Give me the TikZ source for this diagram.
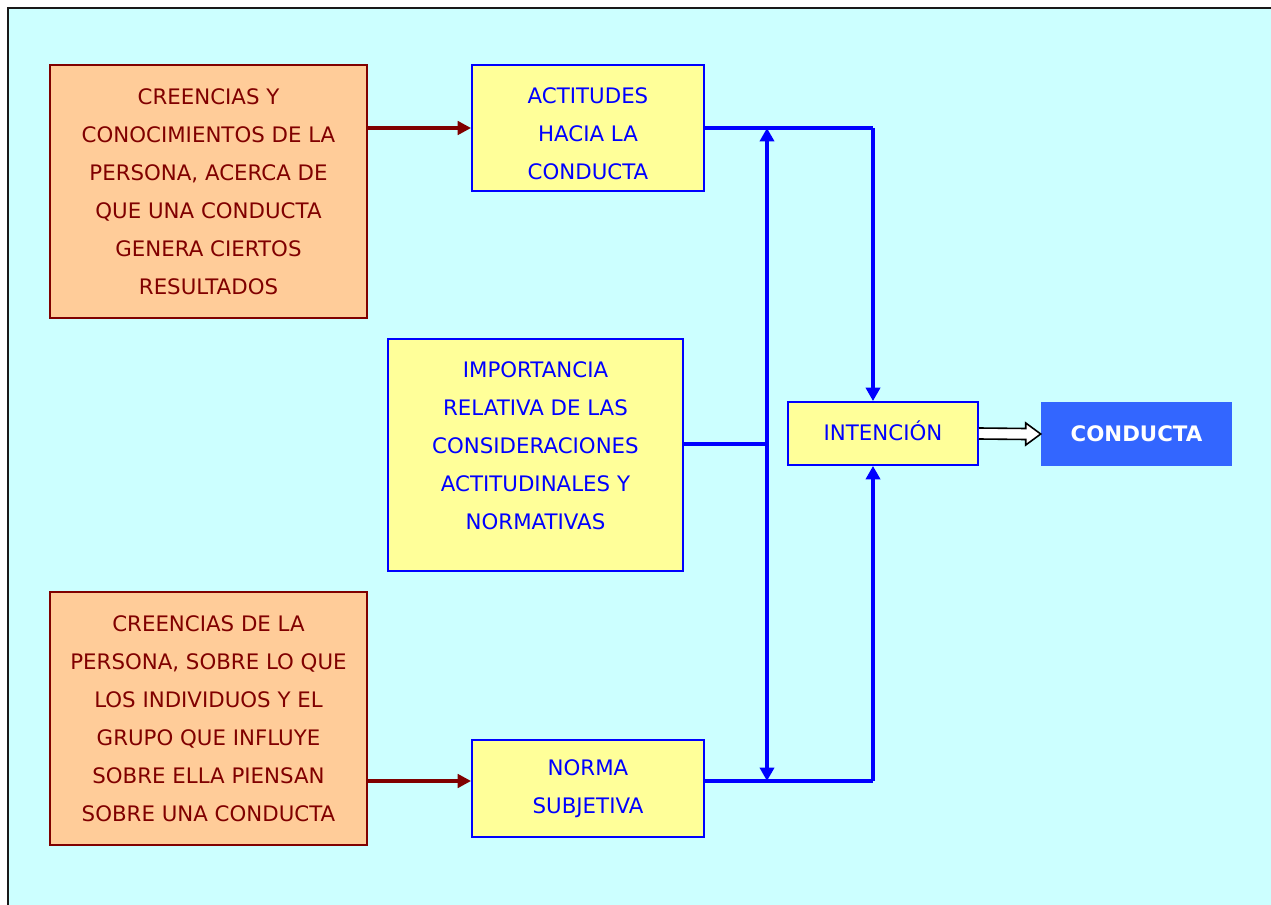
\documentclass[tikz,border=0pt]{standalone}
\usepackage{fontspec}
\setmainfont{DejaVu Sans}
\usetikzlibrary{arrows.meta,calc}
\definecolor{bgc}{HTML}{CCFFFF}
\definecolor{orangefill}{HTML}{FFCC99}
\definecolor{yellowfill}{HTML}{FFFF99}
\definecolor{darkred}{HTML}{800000}
\definecolor{bluel}{HTML}{0000FF}
\definecolor{condfill}{HTML}{3366FF}
\tikzset{
  boxfont/.style={font=\fontsize{16}{28.5}\selectfont},
  orangebox/.style={draw=darkred, line width=1.4pt, fill=orangefill, text=darkred, align=center, inner sep=0pt, boxfont},
  yellowbox/.style={draw=bluel, line width=1.4pt, fill=yellowfill, text=bluel, align=center, inner sep=0pt, boxfont},
  yellowtext/.style={text=bluel, align=center, inner sep=0pt, boxfont},
  redarrow/.style={draw=darkred, line width=2.6pt, -{Triangle[length=10pt,width=10pt]}},
  blueline/.style={draw=bluel, line width=2.8pt},
  bluetip/.style={Triangle[length=10pt,width=10.5pt]},
  bluearrow/.style={blueline, -{Triangle[length=10pt,width=10.5pt]}},
}
\begin{document}
\begin{tikzpicture}[x=0.75pt,y=-0.75pt]
\useasboundingbox (0,0) rectangle (1271,905);
\fill[bgc] (8,8) rectangle (1271,905);
\draw[black!90, line width=2pt] (8,905) -- (8,8) -- (1271,8);
% boxes
\node[orangebox, minimum width=317*0.75pt, minimum height=253*0.75pt] (b1) at (208.5,191.5) {CREENCIAS Y\\CONOCIMIENTOS DE LA\\PERSONA, ACERCA DE\\QUE UNA CONDUCTA\\GENERA CIERTOS\\RESULTADOS};
\node[orangebox, minimum width=317*0.75pt, minimum height=253*0.75pt] (b2) at (208.5,718.5) {CREENCIAS DE LA\\PERSONA, SOBRE LO QUE\\LOS INDIVIDUOS Y EL\\GRUPO QUE INFLUYE\\SOBRE ELLA PIENSAN\\SOBRE UNA CONDUCTA};
\node[yellowbox, minimum width=232*0.75pt, minimum height=126*0.75pt] (act) at (588,128) {};
\node[yellowtext] (acttext) at (588,134) {ACTITUDES\\HACIA LA\\CONDUCTA};
\node[yellowbox, minimum width=295*0.75pt, minimum height=232*0.75pt] (imp) at (535.5,455) {};
\node[yellowtext] (imptext) at (535.5,445.5) {IMPORTANCIA\\RELATIVA DE LAS\\CONSIDERACIONES\\ACTITUDINALES Y\\NORMATIVAS};
\node[yellowbox, minimum width=232*0.75pt, minimum height=97*0.75pt] (norma) at (588,788.5) {NORMA\\SUBJETIVA};
\node[yellowbox, minimum width=190*0.75pt, minimum height=63*0.75pt] (int) at (883,433.5) {};
\node[yellowtext] (inttext) at (883,431) {INTENCIÓN};
\node[fill=condfill, text=white, font=\fontsize{16}{18}\selectfont\bfseries, minimum width=191*0.75pt, minimum height=64*0.75pt, inner sep=0pt] (cond) at (1136.5,434) {CONDUCTA};
% coordinates
\coordinate (tr) at (873,128);
\coordinate (tm) at (767,128);
\coordinate (bm) at (767,781);
\coordinate (na) at (704,781);
\coordinate (nr) at (873,781);
\coordinate (im) at (767,444);
% red arrows
\draw[redarrow] (b1.east |- act.west) -- (act.west);
\draw[redarrow] (b2.east |- na) -- (act.west |- na);
% blue
\draw[blueline] (act.east) -- (tr);
\draw[bluearrow] (tr) -- (int.north -| tr);
\draw[blueline] (na) -- (nr);
\draw[bluearrow] (nr) -- (int.south -| nr);
\draw[blueline] (imp.east |- im) -- (im);
\draw[blueline, {Triangle[length=10pt,width=10.5pt]}-{Triangle[length=10pt,width=10.5pt]}] (tm) -- (bm);
% hollow arrow
\draw[black, fill=white, line width=1.2pt, line join=miter]
  ($(int.east)+(0,-5.5)$) -- ($(cond.west)+(-15,-5.5)$) -- ($(cond.west)+(-15,-11)$)
  -- (cond.west) -- ($(cond.west)+(-15,11)$) -- ($(cond.west)+(-15,5.5)$)
  -- ($(int.east)+(0,5.5)$);
\end{tikzpicture}
\end{document}
